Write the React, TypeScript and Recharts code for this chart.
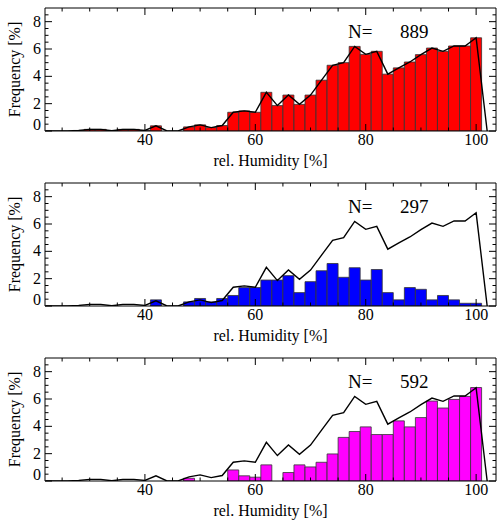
import React from 'react';
import { ComposedChart, Bar, Line, XAxis, YAxis } from 'recharts';

const humidityBins = [22, 24, 26, 28, 30, 32, 34, 36, 38, 40, 42, 44, 46, 48, 50, 52, 54, 56, 58, 60, 62, 64, 66, 68, 70, 72, 74, 76, 78, 80, 82, 84, 86, 88, 90, 92, 94, 96, 98, 100, 102];

const totalFreq = [0, 0, 0, 0.04, 0.12, 0.12, 0.02, 0.12, 0.12, 0.04, 0.38, 0, 0, 0.3, 0.45, 0.25, 0.4, 1.37, 1.47, 1.37, 2.83, 1.86, 2.63, 1.95, 2.63, 3.72, 4.81, 5.0, 6.19, 5.61, 5.83, 4.16, 4.62, 5.05, 5.59, 6.07, 5.83, 6.22, 6.22, 6.82, 0];

const blueFreq = [0, 0, 0, 0, 0, 0, 0, 0, 0, 0, 0.45, 0, 0, 0.3, 0.55, 0.3, 0.55, 0.77, 1.35, 1.35, 1.9, 1.9, 2.22, 0.98, 1.78, 2.58, 3.11, 2.1, 2.8, 1.9, 2.67, 0.98, 0.45, 1.35, 1.22, 0.45, 0.77, 0.45, 0.2, 0.2, 0];

const magentaFreq = [0, 0, 0, 0, 0, 0, 0, 0, 0, 0, 0, 0, 0, 0.2, 0, 0, 0, 0.81, 0.38, 0.28, 1.18, 0, 0.62, 1.18, 1.03, 1.37, 1.98, 3.19, 3.62, 3.96, 3.4, 3.4, 4.4, 3.96, 4.64, 5.85, 5.34, 5.97, 6.19, 6.84, 0];

const sampleCounts = [889, 297, 592];
const panelColors = ['#ff0000', '#0000ff', '#ff00ff'];

const xTicks = [25, 30, 35, 40, 45, 50, 55, 60, 65, 70, 75, 80, 85, 90, 95, 100];
const xLabelTicks = [40, 60, 80, 100];
const yTicks = [0, 0.5, 1, 1.5, 2, 2.5, 3, 3.5, 4, 4.5, 5, 5.5, 6, 6.5, 7, 7.5, 8, 8.5];
const yLabelTicks = [0, 2, 4, 6, 8];

const FONT = "'Liberation Serif', 'Times New Roman', serif";
const W = 497;
const H = 175;
const MAJOR = 7;
const MINOR = 3.5;

const BottomTick = (props: any) => {
  const { x, y, payload } = props;
  const v = payload.value;
  const major = xLabelTicks.includes(v);
  return (
    <g>
      <line x1={x} x2={x} y1={y} y2={y - (major ? MAJOR : MINOR)} stroke="#000" strokeWidth={1} />
      {major && (
        <text x={x} y={y + 14} textAnchor="middle" fontSize={16} fontFamily={FONT} fill="#000">
          {v}
        </text>
      )}
    </g>
  );
};

const TopTick = (props: any) => {
  const { x, y, payload } = props;
  const major = xLabelTicks.includes(payload.value);
  return <line x1={x} x2={x} y1={y} y2={y + (major ? MAJOR : MINOR)} stroke="#000" strokeWidth={1} />;
};

const LeftTick = (props: any) => {
  const { x, y, payload } = props;
  const v = payload.value;
  const major = yLabelTicks.includes(v);
  return (
    <g>
      <line x1={x} x2={x + (major ? MAJOR : MINOR)} y1={y} y2={y} stroke="#000" strokeWidth={1} />
      {major && (
        <text x={x - 4} y={v === 0 ? y - 1 : y + 5} textAnchor="end" fontSize={16} fontFamily={FONT} fill="#000">
          {v}
        </text>
      )}
    </g>
  );
};

const RightTick = (props: any) => {
  const { x, y, payload } = props;
  const major = yLabelTicks.includes(payload.value);
  return <line x1={x} x2={x - (major ? MAJOR : MINOR)} y1={y} y2={y} stroke="#000" strokeWidth={1} />;
};

const XTitle = (props: any) => {
  const vb = props.viewBox || {};
  const cx = vb.x + vb.width / 2;
  return (
    <text x={cx} y={vb.y + 35} textAnchor="middle" fontSize={16} fontFamily={FONT} fill="#000">
      rel. Humidity [%]
    </text>
  );
};

const YTitle = (props: any) => {
  const vb = props.viewBox || {};
  const cy = vb.y + vb.height / 2;
  const x = 20;
  return (
    <text x={x} y={cy} transform={`rotate(-90, ${x}, ${cy})`} textAnchor="middle" fontSize={16} fontFamily={FONT} fill="#000">
      Frequency [%]
    </text>
  );
};

function Panel({ values, color }: { values: number[]; color: string }) {
  const data = humidityBins.map((b, i) => ({ rh: b, sub: values[i], total: totalFreq[i] }));
  return (
    <ComposedChart width={W} height={H} data={data} margin={{ top: 7, right: 0, left: 0, bottom: 0 }} barCategoryGap={0} barGap={0}>
      <XAxis
        xAxisId="bottom"
        orientation="bottom"
        dataKey="rh"
        type="number"
        domain={[21.9, 103.6]}
        allowDataOverflow
        ticks={xTicks}
        interval={0}
        tickSize={0}
        tickMargin={0}
        tickLine={false}
        tick={<BottomTick />}
        height={44}
        axisLine={{ stroke: '#000', strokeWidth: 1 }}
        label={<XTitle />}
      />
      <XAxis
        xAxisId="top"
        orientation="top"
        dataKey="rh"
        type="number"
        domain={[21.9, 103.6]}
        allowDataOverflow
        ticks={xTicks}
        interval={0}
        tickSize={0}
        tickMargin={0}
        tickLine={false}
        tick={<TopTick />}
        height={1}
        axisLine={{ stroke: '#000', strokeWidth: 1 }}
      />
      <YAxis
        yAxisId="left"
        orientation="left"
        type="number"
        domain={[0, 9]}
        allowDataOverflow
        ticks={yTicks}
        interval={0}
        tickSize={0}
        tickMargin={0}
        tickLine={false}
        tick={<LeftTick />}
        width={45}
        axisLine={{ stroke: '#000', strokeWidth: 1 }}
        label={<YTitle />}
      />
      <YAxis
        yAxisId="right"
        orientation="right"
        type="number"
        domain={[0, 9]}
        allowDataOverflow
        ticks={yTicks}
        interval={0}
        tickSize={0}
        tickMargin={0}
        tickLine={false}
        tick={<RightTick />}
        width={1}
        axisLine={{ stroke: '#000', strokeWidth: 1 }}
      />
      <Bar xAxisId="bottom" yAxisId="left" dataKey="sub" fill={color} stroke="#333" strokeWidth={0.8} isAnimationActive={false} />
      <Line xAxisId="top" yAxisId="right" dataKey="total" type="linear" stroke="#000" strokeWidth={1.4} dot={false} activeDot={false} isAnimationActive={false} />
    </ComposedChart>
  );
}

export default function App() {
  const panels = [totalFreq, blueFreq, magentaFreq];
  return (
    <div style={{ position: 'absolute', left: 0, top: 0, width: W, height: 525, background: '#fff' }}>
      {panels.map((vals, i) => (
        <div key={i} style={{ position: 'absolute', left: 0, top: i * H, width: W, height: H }}>
          <Panel values={vals} color={panelColors[i]} />
        </div>
      ))}
      <svg width={W} height={525} style={{ position: 'absolute', left: 0, top: 0, pointerEvents: 'none' }}>
        {sampleCounts.map((n, i) => (
          <g key={i}>
            <text x={348} y={38 + i * H} fontSize={19} fontFamily={FONT} fill="#000">N=</text>
            <text x={400} y={38 + i * H} fontSize={19} fontFamily={FONT} fill="#000">{n}</text>
          </g>
        ))}
      </svg>
    </div>
  );
}
